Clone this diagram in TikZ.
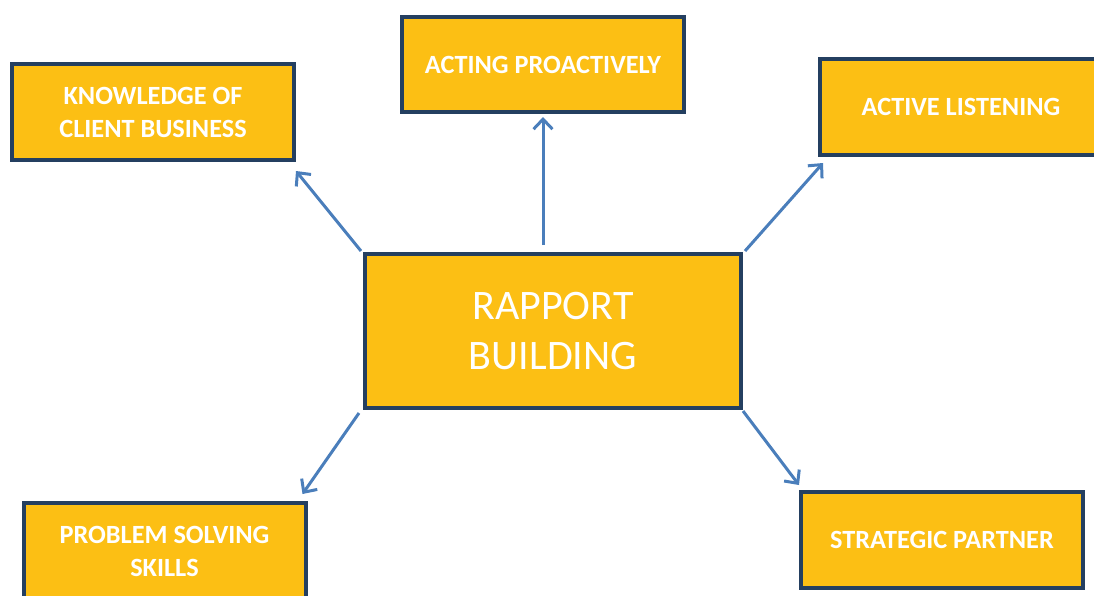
\documentclass[tikz,border=0pt]{standalone}
\usepackage{fontspec}
\setmainfont{Carlito}
\usetikzlibrary{arrows.meta}
\definecolor{boxfill}{HTML}{FCBF14}
\definecolor{boxline}{HTML}{243F60}
\definecolor{arrowblue}{HTML}{4A7EBB}
\begin{document}
\begin{tikzpicture}[x=1pt,y=-1pt,
  topicbox/.style={draw=boxline,line width=4pt,fill=boxfill,text=white,inner sep=0pt,
    align=center,minimum width=282pt,minimum height=96pt,
    font=\fontsize{26.3}{33}\selectfont\bfseries},
  mainbox/.style={draw=boxline,line width=4pt,fill=boxfill,text=white,inner sep=0pt,
    align=center,minimum width=376pt,minimum height=154pt,
    font=\fontsize{42}{50}\selectfont},
  link/.style={draw=arrowblue,line width=3pt,-{Straight Barb[length=10pt,width=19pt,line width=3pt]}}
]
\path[use as bounding box] (0,0) rectangle (1094,595);
\clip (0,0) rectangle (1094,595);
\node[topicbox] (k) at (153,112) {KNOWLEDGE OF\\CLIENT BUSINESS};
\node[topicbox,minimum height=95pt] (a) at (543,64.5) {ACTING PROACTIVELY};
\node[topicbox] (l) at (961,107) {ACTIVE LISTENING};
\node[mainbox] (c) at (553,331) {RAPPORT\\BUILDING};
\node[topicbox] (p) at (164.5,551) {PROBLEM SOLVING\\SKILLS};
\node[topicbox] (s) at (942,540) {STRATEGIC PARTNER};
\draw[link] ([xshift=-10pt,yshift=7pt]c.north) -- ([yshift=-3pt]a.south);
\draw[link] ([xshift=-2pt,yshift=1pt]c.north west) -- ([yshift=-9pt]k.south east);
\draw[link] ([xshift=2pt,yshift=1pt]c.north east) -- ([xshift=5pt,yshift=-6pt]l.south west);
\draw[link] ([xshift=-4pt,yshift=-3pt]c.south west) -- ([xshift=-5pt,yshift=7pt]p.north east);
\draw[link] ([yshift=-1pt]c.south east) -- ([yshift=5pt]s.north west);
\end{tikzpicture}
\end{document}
